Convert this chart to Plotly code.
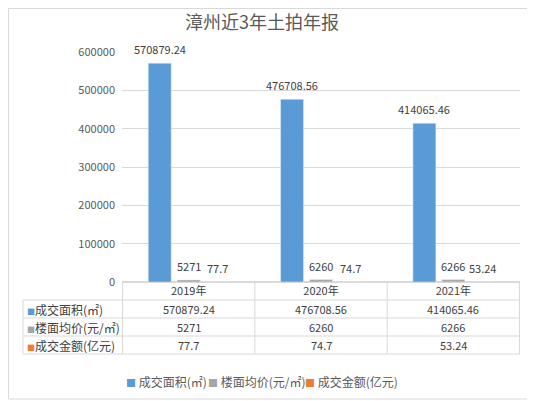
import plotly.graph_objects as go

# data
years = ["2019年", "2020年", "2021年"]
area = [570879.24, 476708.56, 414065.46]      # 成交面积(㎡)
price = [5271, 6260, 6266]                    # 楼面均价(元/㎡)
amount = [77.7, 74.7, 53.24]                  # 成交金额(亿元)
names = ["成交面积(㎡)", "楼面均价(元/㎡)", "成交金额(亿元)"]
colors = ["#5b9bd5", "#a5a5a5", "#ed7d31"]
y_ticks = [0, 100000, 200000, 300000, 400000, 500000, 600000]

# the page body has an 8px margin, so the figure is shrunk by that much
OFF = 8
W, H = 535 - OFF, 401 - OFF
X0, X1, Y0, Y1 = 122, 520, 52, 282          # plot area in window pixels
L, R, T, B = X0 - OFF, 535 - X1, Y0 - OFF, 401 - Y1
pw, ph = X1 - X0, Y1 - Y0
FONT = "Noto Sans CJK SC"
LINE = "#d9d9d9"
BARGAP, GROUPGAP = 0.344, 0.207


def px(x):
    return (x - X0) / pw


def py(y):
    return (Y1 - y) / ph


fig = go.Figure()
slot = pw / len(years) * (1 - BARGAP) / 3
ann = []
for k, (name, vals, c) in enumerate(zip(names, [area, price, amount], colors)):
    fig.add_trace(go.Bar(x=years, y=vals, name=name, marker_color=c,
                         showlegend=False))
    for yr, v in zip(years, vals):
        ann.append(dict(x=yr, y=v, xref="x", yref="y", showarrow=False,
                        text=str(v), xanchor="center", yanchor="middle",
                        xshift=(k - 1) * slot, yshift=14,
                        font=dict(size=11, color="#404040", family=FONT)))

shapes = []
# outer border
shapes.append(dict(type="rect", xref="paper", yref="paper",
                   x0=px(OFF + 0.5), x1=px(532), y0=py(OFF + 0.5), y1=py(399),
                   line=dict(color=LINE, width=1)))
# data table grid
for yy in [300, 318, 336, 354]:
    shapes.append(dict(type="line", xref="paper", yref="paper",
                       x0=px(23), x1=1, y0=py(yy), y1=py(yy),
                       line=dict(color=LINE, width=1)))
shapes.append(dict(type="line", xref="paper", yref="paper",
                   x0=px(23), x1=px(23), y0=py(300), y1=py(354),
                   line=dict(color=LINE, width=1)))
for i in range(len(years) + 1):
    shapes.append(dict(type="line", xref="x", yref="paper",
                       x0=i - 0.5, x1=i - 0.5, y0=0, y1=py(354),
                       line=dict(color=LINE, width=1)))

rows_y = [309, 327, 345]
for r, (name, vals, c) in enumerate(zip(names, [area, price, amount], colors)):
    ann.append(dict(xref="paper", yref="paper", x=px(25), y=py(rows_y[r]),
                    xanchor="left", yanchor="middle", showarrow=False,
                    text=f"<span style='color:{c};font-size:8px'>■</span>{name}",
                    font=dict(size=12, color="#404040", family=FONT)))
    for i, v in enumerate(vals):
        ann.append(dict(xref="x", yref="paper", x=i, y=py(rows_y[r]),
                        xanchor="center", yanchor="middle", showarrow=False,
                        text=str(v),
                        font=dict(size=11, color="#404040", family=FONT)))

# legend below the table
leg_x = [124, 206, 303]
for name, c, lx in zip(names, colors, leg_x):
    ann.append(dict(xref="paper", yref="paper", x=px(lx), y=py(381),
                    xanchor="left", yanchor="middle", showarrow=False,
                    text=f"<span style='color:{c};font-size:10px'>■</span> {name}",
                    font=dict(size=12, color="#595959", family=FONT)))

fig.update_layout(
    width=W, height=H,
    margin=dict(l=L, r=R, t=T, b=B),
    paper_bgcolor="white", plot_bgcolor="white",
    title=dict(text="漳州近3年土拍年报", xref="container", yref="container",
               x=(262 - OFF) / W, xanchor="center",
               y=1 - (23 - OFF) / H, yanchor="middle",
               font=dict(size=18, color="#595959", family=FONT)),
    barmode="group", bargap=BARGAP, bargroupgap=GROUPGAP,
    font=dict(family=FONT, color="#595959"),
    xaxis=dict(showgrid=False, showline=False, ticks="",
               tickfont=dict(size=11, color="#404040"), ticklabelstandoff=1),
    yaxis=dict(range=[0, 600000], tickvals=y_ticks, tickformat="d",
               showgrid=True, gridcolor=LINE, zeroline=True, zerolinecolor=LINE,
               showline=False, ticks="", ticklabelstandoff=6,
               tickfont=dict(size=11, color="#595959")),
    shapes=shapes, annotations=ann,
)

fig.write_html("out.html")
